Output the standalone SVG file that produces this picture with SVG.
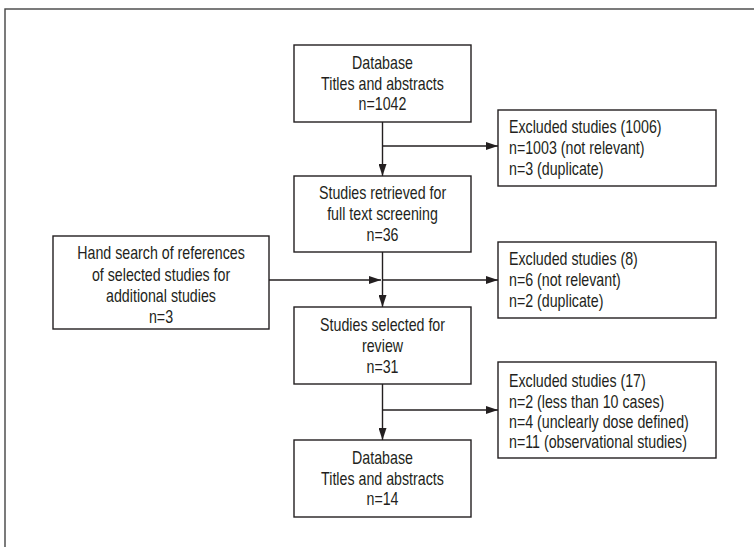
<svg xmlns="http://www.w3.org/2000/svg" width="754" height="547" viewBox="0 0 754 547">
<defs>
<marker id="ah" viewBox="0 0 12 8" refX="12" refY="4" markerWidth="12" markerHeight="8" markerUnits="userSpaceOnUse" orient="auto">
<path d="M0,0 L12,4 L0,8 Z" fill="#231f20"/>
</marker>
<style>
.box{fill:#fff;stroke:#231f20;stroke-width:1.4}
.frame{fill:none;stroke:#444;stroke-width:1.4}
.c{stroke:#231f20;stroke-width:1.4;fill:none}
text{font-family:"Liberation Sans",Arial,sans-serif;font-size:18px;fill:#231f20;transform-box:fill-box;transform:scaleX(0.79)}
.m{text-anchor:middle;transform-origin:center}
.l{text-anchor:start;transform-origin:left}
</style>
</defs>
<rect class="frame" x="5" y="9" width="800" height="600"/>
<g id="connectors">
<line class="c" x1="382.5" y1="122" x2="382.5" y2="176" marker-end="url(#ah)"/>
<line class="c" x1="382.5" y1="146" x2="498" y2="146" marker-end="url(#ah)"/>
<line class="c" x1="382.5" y1="252" x2="382.5" y2="307" marker-end="url(#ah)"/>
<line class="c" x1="269" y1="280" x2="381" y2="280" marker-end="url(#ah)"/>
<line class="c" x1="382.5" y1="280" x2="498" y2="280" marker-end="url(#ah)"/>
<line class="c" x1="382.5" y1="384" x2="382.5" y2="440" marker-end="url(#ah)"/>
<line class="c" x1="382.5" y1="410" x2="498" y2="410" marker-end="url(#ah)"/>
</g>
<g id="database">
<rect class="box" x="294" y="45" width="177" height="77"/>
<text class="m" x="382.5" y="69">Database</text>
<text class="m" x="382.5" y="90">Titles and abstracts</text>
<text class="m" x="382.5" y="110.5">n=1042</text>
</g>
<g id="excluded1">
<rect class="box" x="498" y="110" width="218" height="76"/>
<text class="l" x="509" y="133">Excluded studies (1006)</text>
<text class="l" x="509" y="154">n=1003 (not relevant)</text>
<text class="l" x="509" y="175">n=3 (duplicate)</text>
</g>
<g id="retrieved">
<rect class="box" x="294" y="176" width="177" height="76"/>
<text class="m" x="382.5" y="199">Studies retrieved for</text>
<text class="m" x="382.5" y="220">full text screening</text>
<text class="m" x="382.5" y="241">n=36</text>
</g>
<g id="handsearch">
<rect class="box" x="53" y="236" width="216" height="93"/>
<text class="m" x="161" y="259">Hand search of references</text>
<text class="m" x="161" y="281">of selected studies for</text>
<text class="m" x="161" y="302">additional studies</text>
<text class="m" x="161" y="323">n=3</text>
</g>
<g id="excluded2">
<rect class="box" x="498" y="242" width="218" height="76"/>
<text class="l" x="509" y="265">Excluded studies (8)</text>
<text class="l" x="509" y="286">n=6 (not relevant)</text>
<text class="l" x="509" y="307">n=2 (duplicate)</text>
</g>
<g id="selected">
<rect class="box" x="294" y="307" width="177" height="77"/>
<text class="m" x="382.5" y="331">Studies selected for</text>
<text class="m" x="382.5" y="352">review</text>
<text class="m" x="382.5" y="373">n=31</text>
</g>
<g id="excluded3">
<rect class="box" x="498" y="362" width="218" height="96"/>
<text class="l" x="509" y="387">Excluded studies (17)</text>
<text class="l" x="509" y="408">n=2 (less than 10 cases)</text>
<text class="l" x="509" y="428">n=4 (unclearly dose defined)</text>
<text class="l" x="509" y="448">n=11 (observational studies)</text>
</g>
<g id="final">
<rect class="box" x="294" y="440" width="177" height="77"/>
<text class="m" x="382.5" y="464">Database</text>
<text class="m" x="382.5" y="485">Titles and abstracts</text>
<text class="m" x="382.5" y="505.5">n=14</text>
</g>
</svg>
